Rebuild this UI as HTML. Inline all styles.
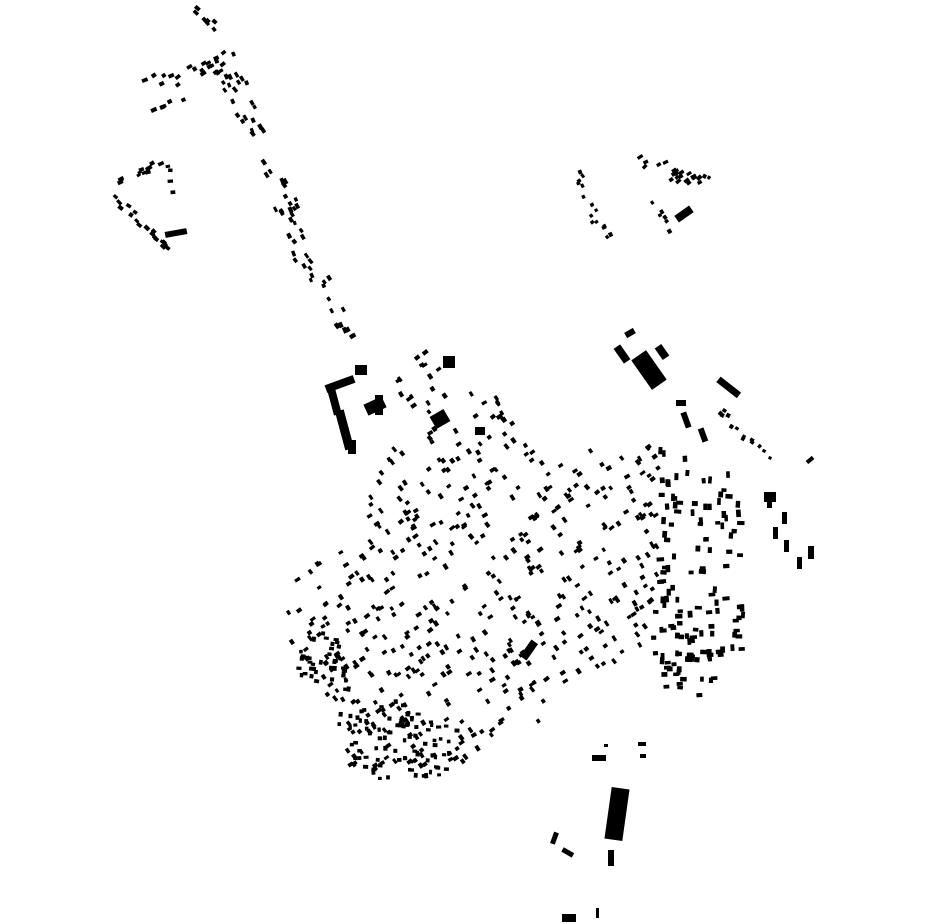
<!DOCTYPE html>
<html><head><meta charset="utf-8">
<style>html,body{margin:0;padding:0;background:#fff;width:930px;height:924px;overflow:hidden}svg{display:block}</style>
</head><body>
<svg id="s" width="930" height="924" viewBox="0 0 930 924" xmlns="http://www.w3.org/2000/svg">
<g fill="#000">
<rect x="325" y="380" width="30" height="8" transform="rotate(-20 340 384)"/>
<rect x="330" y="385" width="8" height="30" transform="rotate(-15 334 400)"/>
<rect x="340" y="410" width="9" height="40" transform="rotate(-15 344 430)"/>
<rect x="355" y="365" width="12" height="10"/>
<rect x="365" y="400" width="20" height="12" transform="rotate(-25 375 406)"/>
<rect x="375" y="395" width="8" height="20"/>
<rect x="348" y="440" width="8" height="14"/>
<rect x="640" y="352" width="18" height="36" transform="rotate(-35 649 370)"/>
<rect x="618" y="345" width="8" height="18" transform="rotate(-35 622 354)"/>
<rect x="625" y="330" width="10" height="6" transform="rotate(-30 630 333)"/>
<rect x="658" y="345" width="8" height="14" transform="rotate(-35 662 352)"/>
<rect x="716" y="384" width="26" height="7" transform="rotate(38 729 387)"/>
<rect x="676" y="400" width="10" height="6"/>
<rect x="683" y="412" width="6" height="16" transform="rotate(-20 686 420)"/>
<rect x="700" y="428" width="6" height="14" transform="rotate(-20 703 435)"/>
<rect x="680" y="205" width="8" height="18" transform="rotate(55 684 214)"/>
<rect x="764" y="492" width="12" height="10"/>
<rect x="767" y="500" width="5" height="8"/>
<rect x="782" y="512" width="5" height="12"/>
<rect x="773" y="527" width="5" height="12"/>
<rect x="784" y="540" width="5" height="12"/>
<rect x="808" y="546" width="6" height="13"/>
<rect x="797" y="557" width="5" height="12"/>
<rect x="806" y="458" width="8" height="4" transform="rotate(-40 810 460)"/>
<rect x="608" y="788" width="18" height="52" transform="rotate(8 617 814)"/>
<rect x="592" y="755" width="14" height="6"/>
<rect x="608" y="850" width="6" height="16"/>
<rect x="552" y="832" width="5" height="12" transform="rotate(20 554 838)"/>
<rect x="562" y="850" width="12" height="5" transform="rotate(30 568 852)"/>
<rect x="562" y="914" width="14" height="8"/>
<rect x="596" y="908" width="3" height="10"/>
<rect x="638" y="742" width="8" height="4"/>
<rect x="640" y="754" width="6" height="4"/>
<rect x="604" y="744" width="4" height="3"/>
<rect x="432" y="412" width="16" height="14" transform="rotate(-30 440 419)"/>
<rect x="443" y="356" width="12" height="12"/>
<rect x="475" y="427" width="10" height="8"/>
<rect x="525" y="640" width="8" height="20" transform="rotate(35 529 650)"/>
<rect x="165" y="230" width="22" height="6" transform="rotate(-10 176 233)"/>
</g>
<g id="gen" fill="#000"></g>
</svg>
<script>
(function(){
var seed=12345;function r(){seed=(seed*1103515245+12345)%2147483648;return seed/2147483648;}
function inPoly(x,y,p){var c=false;for(var i=0,j=p.length-1;i<p.length;j=i++){var xi=p[i][0],yi=p[i][1],xj=p[j][0],yj=p[j][1];if(((yi>y)!=(yj>y))&&(x<(xj-xi)*(y-yi)/(yj-yi)+xi))c=!c;}return c;}
var g=document.getElementById('gen');var out=[];
function rect(x,y,w,h,a){out.push('<rect x="'+(x-w/2).toFixed(1)+'" y="'+(y-h/2).toFixed(1)+'" width="'+w.toFixed(1)+'" height="'+h.toFixed(1)+'" transform="rotate('+a.toFixed(0)+' '+x.toFixed(1)+' '+y.toFixed(1)+')"/>');}
function poly(p,n,ang,sw,sh){var xs=p.map(function(q){return q[0]}),ys=p.map(function(q){return q[1]});var x0=Math.min.apply(0,xs),x1=Math.max.apply(0,xs),y0=Math.min.apply(0,ys),y1=Math.max.apply(0,ys);var k=0,t=0;while(k<n&&t<n*20){t++;var x=x0+r()*(x1-x0),y=y0+r()*(y1-y0);if(!inPoly(x,y,p))continue;k++;rect(x,y,sw+r()*sw*0.5,sh+r()*sh*0.4,ang+(r()<0.5?0:90)+(r()-0.5)*10);}}
function line(x0,y0,x1,y1,n,jit,ang,sw,sh){for(var i=0;i<n;i++){var t=r();var x=x0+(x1-x0)*t+(r()-0.5)*jit,y=y0+(y1-y0)*t+(r()-0.5)*jit;rect(x,y,sw+r()*sw*0.5,sh+r()*sh*0.4,ang+(r()-0.5)*20);}}
line(190,2,215,28,7,8,45,4,3);
line(220,55,265,150,24,22,60,4,3);
line(265,150,300,240,22,22,60,4,3);
line(295,240,350,335,22,18,60,4,3);
line(145,85,235,60,20,18,-30,4,3);
line(155,110,190,95,5,8,-30,4,3);
line(110,192,170,250,20,6,40,4,3);
line(115,185,170,160,12,8,-25,4,3);
line(165,160,175,195,4,6,0,4,3);
line(575,175,605,235,16,14,60,3,3);
line(640,158,700,185,22,14,-35,4,3);
line(652,205,672,230,6,6,60,3,3);
line(700,175,712,180,2,4,30,3,3);
line(720,410,770,460,14,10,-55,3,3);
poly([[660,450],[740,460],[745,650],[700,665],[650,660],[660,560]],110,0,5,3.5);
var M=[[275,592],[320,555],[355,510],[380,470],[395,440],[395,380],[420,345],[440,345],[470,385],[505,400],[520,445],[600,450],[665,445],[660,560],[650,640],[600,680],[560,690],[540,725],[500,730],[460,770],[400,780],[350,770],[335,720],[300,680],[290,640],[285,610]];
poly(M,520,-35,4,3);
poly([[290,640],[340,630],[350,690],[305,690]],40,5,3.5,3);
poly([[335,715],[400,700],[460,730],[455,775],[375,780],[345,750]],85,0,3.5,3);
poly([[660,650],[740,650],[700,700],[665,700]],26,0,5,3.5);
g.innerHTML=out.join('');
})();
</script>
</body></html>
